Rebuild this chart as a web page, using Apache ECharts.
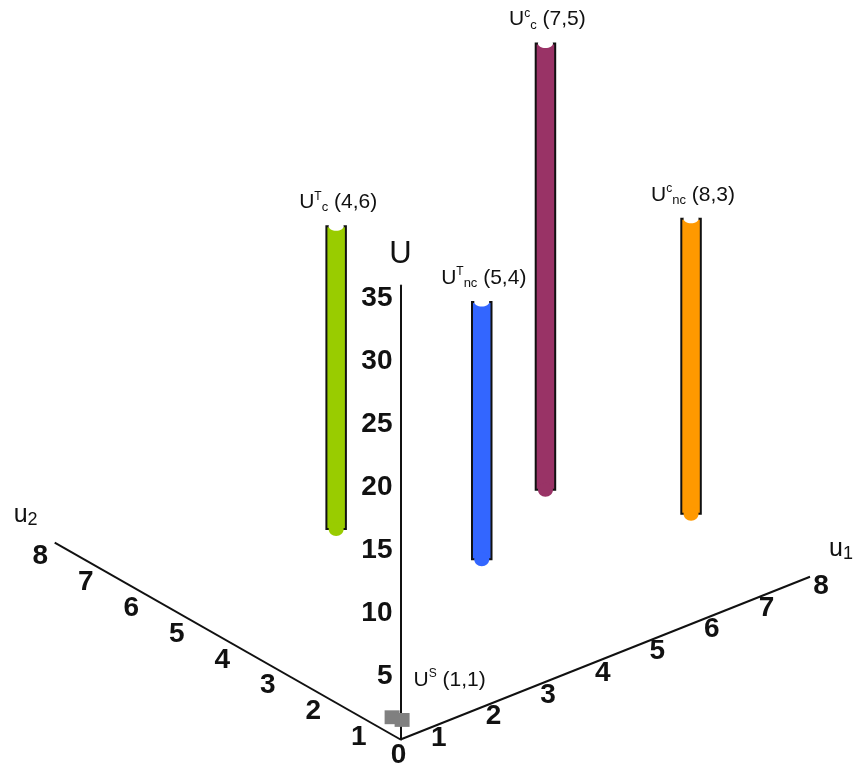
<!DOCTYPE html>
<html><head><meta charset="utf-8">
<script src="https://cdn.jsdelivr.net/npm/echarts@6/dist/echarts.min.js"></script>
<style>html,body{margin:0;padding:0;background:#fff}#c{width:856px;height:764px}</style>
</head><body><div id="c"></div>
<script>
// ---------- data ----------
const barSup = ['T', 'T', 'c', 'c'];
const barSub = ['c', 'nc', 'c', 'nc'];
const barU1 = [4, 5, 7, 8];
const barU2 = [6, 4, 5, 3];
const barLow = [16.7, 14.3, 19.8, 17.9];
const barHigh = [40.7, 34.7, 55.2, 41.3];
const barColors = ['#99CC00', '#3366FF', '#993366', '#FF9900'];

const sSup = ['S'];
const sU1 = [1];
const sU2 = [1];
const sLow = [1.0];
const sHigh = [2.1];

const u1Ticks = [1, 2, 3, 4, 5, 6, 7, 8];
const u2Ticks = [1, 2, 3, 4, 5, 6, 7, 8];
const uTickLabels = [5, 10, 15, 20, 25, 30, 35];
const uMax = 36;
const u1AxisLen = 7.5;
const u2AxisLen = 7.6;

// ---------- projection (layout) ----------
const ORIGIN_X = 400.5;              // px position of the U axis
const PX_U1 = 54.6, PX_U2 = -45.5;   // horizontal px per unit (x axis is in px)
const UY_U1 = 1.721, UY_U2 = 2.054;  // vertical rise of ground axes in U units
const FONT = "'Liberation Sans', Arial, sans-serif";
const INK = '#111';
const NUM_SIZE = 28;

function groundPt(api, a, b) {
  return api.coord([a * PX_U1 + b * PX_U2, a * UY_U1 + b * UY_U2]);
}
function colX(api, a, b) {
  return api.coord([a * PX_U1 + b * PX_U2, 0])[0];
}
const richLbl = {
  m: { fontSize: 21, fontFamily: FONT, fill: INK, lineHeight: 24 },
  sup: { fontSize: 12, fontFamily: FONT, fill: INK, lineHeight: 13, verticalAlign: 'top' },
  sub: { fontSize: 13, fontFamily: FONT, fill: INK, lineHeight: 13, verticalAlign: 'bottom' }
};

const chart = echarts.init(document.getElementById('c'), null, { renderer: 'canvas' });

const option = {
  animation: false,
  backgroundColor: '#fff',
  grid: { left: ORIGIN_X, right: 0, top: 739.5 - uMax * 12.61, bottom: 24.5, containLabel: false, outerBoundsMode: 'none' },
  xAxis: { type: 'value', min: 0, max: 856 - ORIGIN_X, show: false },
  yAxis: {
    type: 'value', min: 0, max: uMax, interval: 5, position: 'left',
    axisLine: { show: true, onZero: false, lineStyle: { color: INK, width: 2 } },
    axisTick: { show: false },
    splitLine: { show: false },
    axisLabel: {
      margin: 8, fontSize: NUM_SIZE, fontWeight: 'bold', color: INK, fontFamily: FONT,
      formatter: v => (uTickLabels.indexOf(v) >= 0 ? String(v) : '')
    }
  },
  series: [
    // ground axes
    {
      type: 'custom', clip: false, silent: true,
      data: [[1, u1AxisLen], [2, u2AxisLen]],
      renderItem: (params, api) => {
        const which = api.value(0), len = api.value(1);
        const o = groundPt(api, 0, 0);
        const e = which === 1 ? groundPt(api, len, 0) : groundPt(api, 0, len);
        const nameTxt = which === 1 ? '{m|u}{s|1}' : '{m|u}{s|2}';
        const nx = which === 1 ? e[0] + 19 : e[0] - 41;
        return {
          type: 'group', children: [
            { type: 'line', shape: { x1: o[0], y1: o[1], x2: e[0], y2: e[1] }, style: { stroke: INK, lineWidth: 2 } },
            { type: 'text', style: {
                text: nameTxt, x: nx, y: e[1] - 28, align: 'left', verticalAlign: 'middle',
                rich: {
                  m: { fontSize: 25, fontFamily: FONT, fill: INK, lineHeight: 28 },
                  s: { fontSize: 18, fontFamily: FONT, fill: INK, lineHeight: 18, verticalAlign: 'bottom' }
                } } }
          ]
        };
      }
    },
    // ground tick labels
    {
      type: 'custom', clip: false, silent: true,
      data: u1Ticks.map(t => [1, t]).concat(u2Ticks.map(t => [2, t])).concat([[0, 0]]),
      renderItem: (params, api) => {
        const which = api.value(0), t = api.value(1);
        let p;
        if (which === 1) { const g = groundPt(api, t, 0); p = [g[0] - 16.2, g[1] + 20.4]; }
        else if (which === 2) { const g = groundPt(api, 0, t); p = [g[0] + 3.9, g[1] + 23.9]; }
        else { const g = groundPt(api, 0, 0); p = [g[0] - 2, g[1] + 16]; }
        return { type: 'text', style: {
          text: String(t), x: p[0], y: p[1], align: 'center', verticalAlign: 'middle',
          fontSize: NUM_SIZE, fontWeight: 'bold', fontFamily: FONT, fill: INK } };
      }
    },
    // U axis title
    {
      type: 'custom', clip: false, silent: true,
      data: [[0, uMax]],
      renderItem: (params, api) => {
        const p = api.coord([api.value(0), api.value(1)]);
        return { type: 'text', style: { text: 'U', x: p[0], y: p[1] - 31, align: 'center', verticalAlign: 'middle',
          fontSize: 31, fontFamily: FONT, fill: INK } };
      }
    },
    // bars
    {
      type: 'custom', clip: false, silent: true,
      data: barU1.map((u, i) => [u, barU2[i], barLow[i], barHigh[i], i]),
      renderItem: (params, api) => {
        const a = api.value(0), b = api.value(1), lo = api.value(2), hi = api.value(3), i = api.value(4);
        const xr = colX(api, a, b);
        const yT = api.coord([0, hi])[1], yB = api.coord([0, lo])[1];
        const w = 19.5, cx = xr - w / 2, col = barColors[i];
        return {
          type: 'group', children: [
            { type: 'rect', shape: { x: xr - w, y: yT, width: w, height: yB - yT }, style: { fill: col, stroke: INK, lineWidth: 2 } },
            { type: 'ellipse', shape: { cx: cx, cy: yB, rx: 7.5, ry: 7 }, style: { fill: col } },
            { type: 'ellipse', shape: { cx: cx, cy: yT, rx: 7.5, ry: 4.5 }, style: { fill: '#fff' } },
            { type: 'text', style: {
                text: `{m|U}{sup|${barSup[i]}}{sub|${barSub[i]}}{m| (${a},${b})}`,
                x: cx + 2, y: yT - 24, align: 'center', verticalAlign: 'middle', rich: richLbl } }
          ]
        };
      }
    },
    // U^S marker
    {
      type: 'custom', clip: false, silent: true,
      data: sU1.map((u, i) => [u, sU2[i], sLow[i], sHigh[i], i]),
      renderItem: (params, api) => {
        const a = api.value(0), b = api.value(1), lo = api.value(2), hi = api.value(3), i = api.value(4);
        const xr = colX(api, a, b);
        const yT = api.coord([0, hi])[1], yB = api.coord([0, lo])[1];
        const s = 15;
        return {
          type: 'group', children: [
            { type: 'rect', shape: { x: xr - s - 10, y: yT - 2.7, width: s, height: yB - yT }, style: { fill: '#808080' } },
            { type: 'rect', shape: { x: xr - s, y: yT, width: s, height: yB - yT }, style: { fill: '#808080' } },
            { type: 'text', style: {
                text: `{m|U}{sup|${sSup[i]}}{m| (${a},${b})}`,
                x: xr + 4, y: yT - 33, align: 'left', verticalAlign: 'middle', rich: richLbl } }
          ]
        };
      }
    }
  ]
};
chart.setOption(option);
</script></body></html>
